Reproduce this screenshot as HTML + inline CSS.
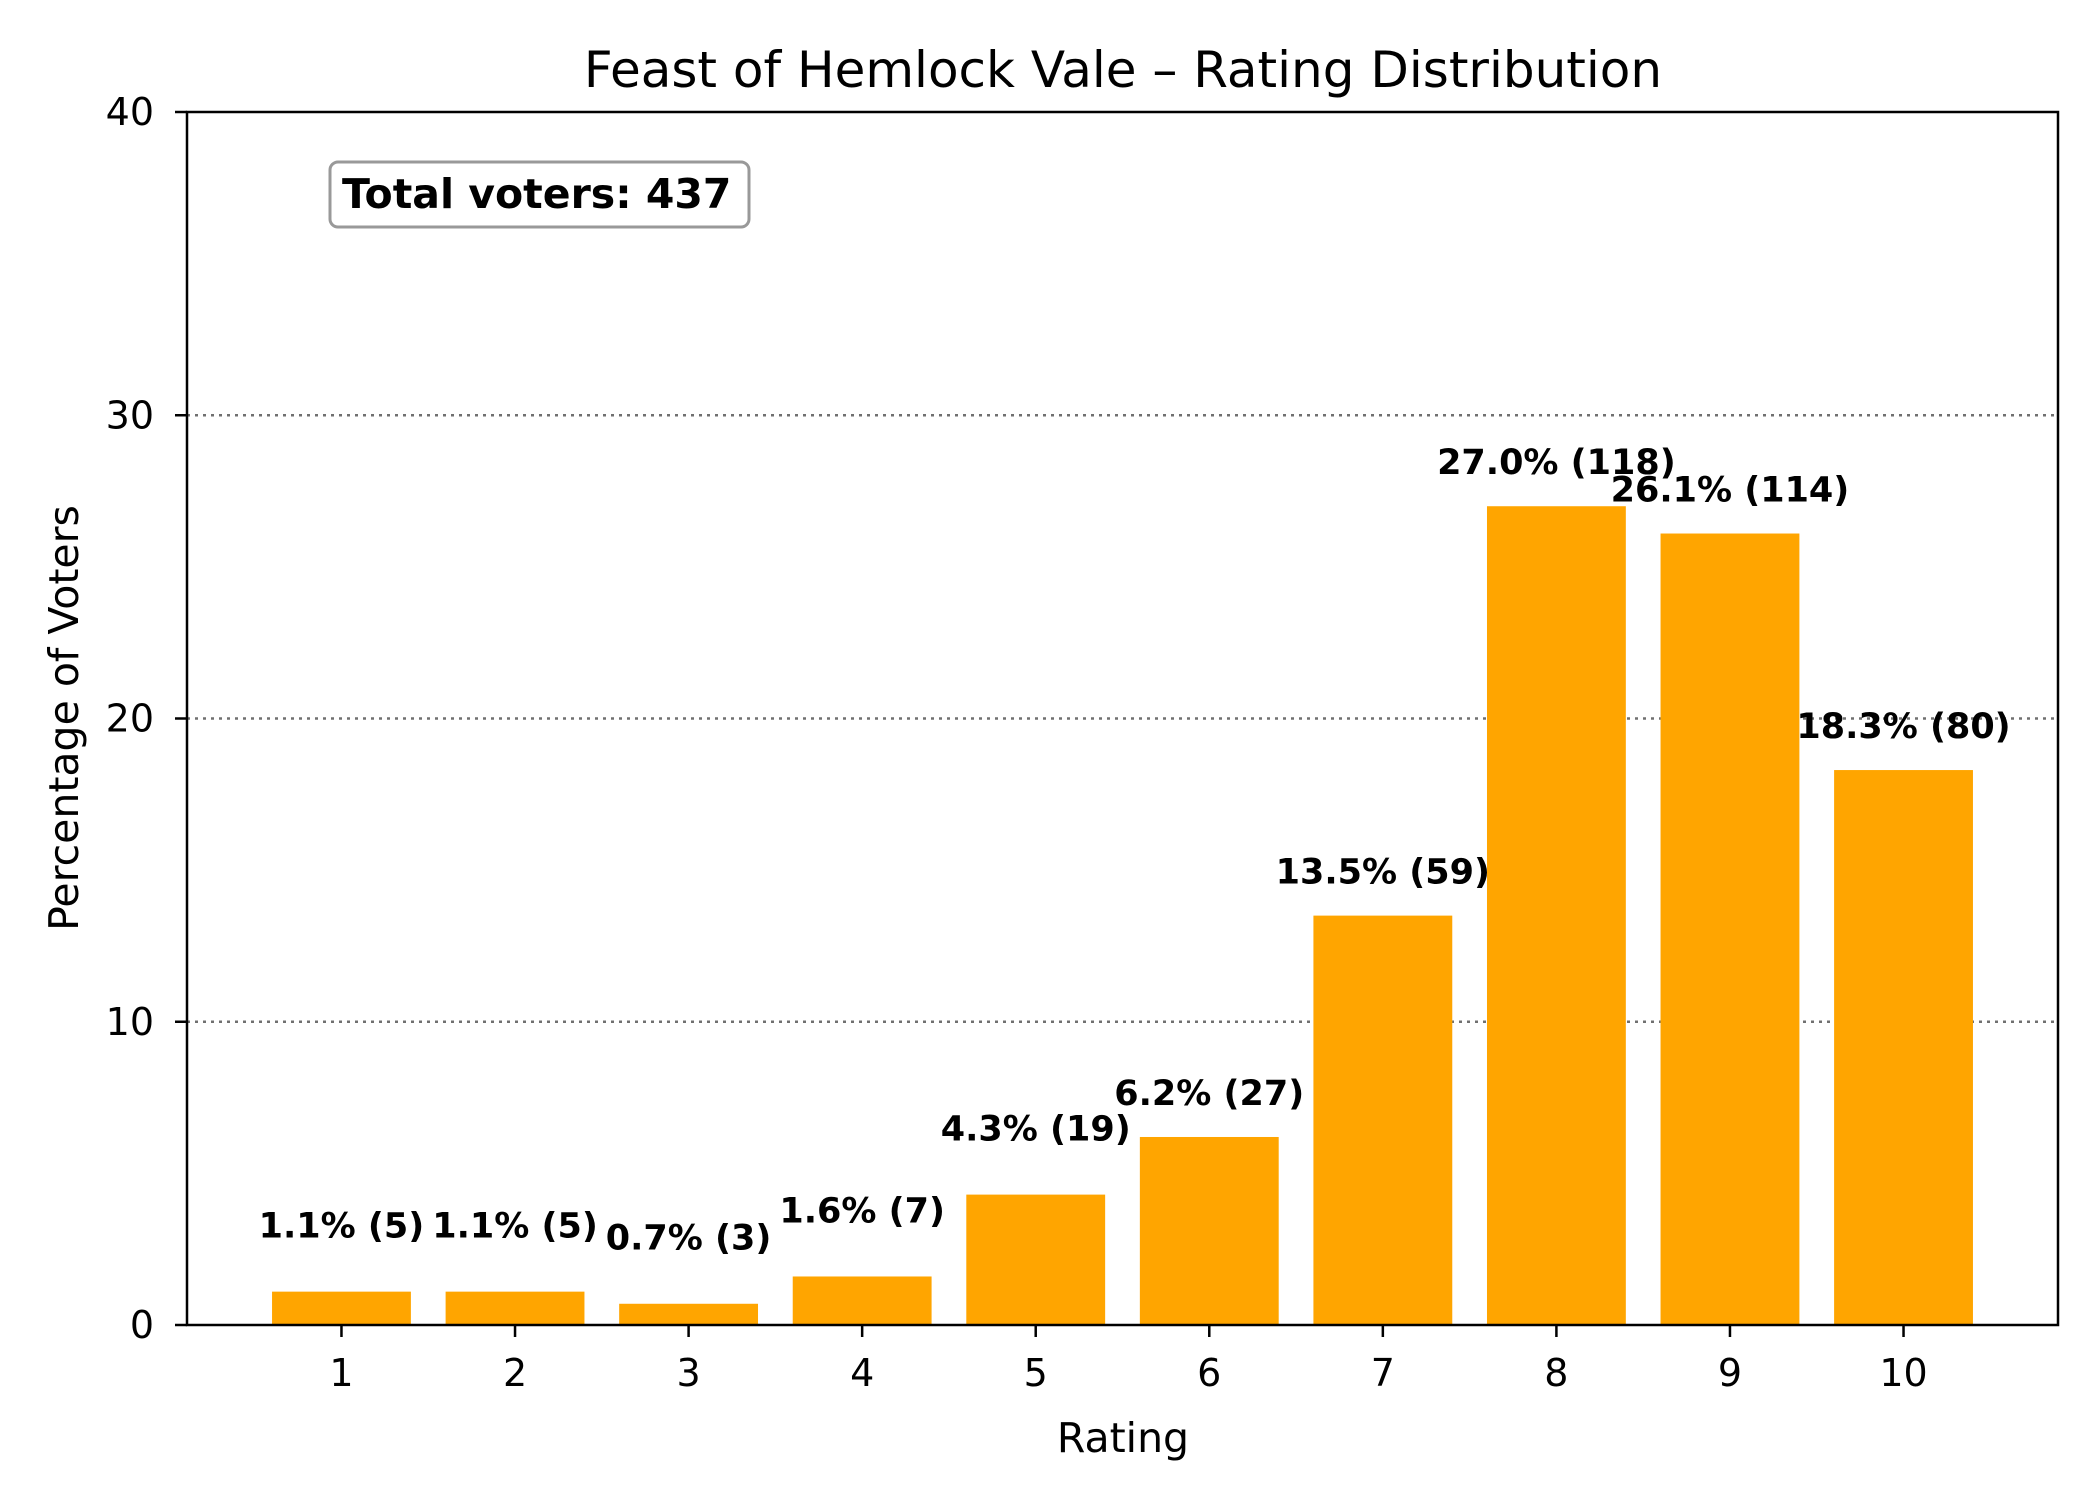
<!DOCTYPE html>
<html><head><meta charset="utf-8"><style>
html,body{margin:0;padding:0;background:#fff;}
svg{display:block;font-family:"DejaVu Sans","Liberation Sans",sans-serif;}
</style></head><body>
<svg id="chart" width="2100" height="1500" viewBox="0 0 2100 1500" xmlns="http://www.w3.org/2000/svg">
<rect width="2100" height="1500" fill="#fff"/>
<g id="grid"></g>
<g id="bars"></g>
<g id="labels"></g>
<g id="axes"></g>
<text x="1123" y="70" text-anchor="middle" dominant-baseline="central" font-size="50">Feast of Hemlock Vale – Rating Distribution</text>
<text x="1123" y="1438" text-anchor="middle" dominant-baseline="central" font-size="41">Rating</text>
<text x="64" y="718" text-anchor="middle" dominant-baseline="central" font-size="41" transform="rotate(-90 64 718)">Percentage of Voters</text>
<g>
<rect x="330" y="162" width="419" height="65" rx="8" fill="#fff" stroke="#999" stroke-width="3"/>
<text x="342" y="194" text-anchor="start" dominant-baseline="central" font-size="41" font-weight="bold">Total voters: 437</text>
</g>
</svg>
<script>
const categories = [1,2,3,4,5,6,7,8,9,10];
const percents = [1.1,1.1,0.7,1.6,4.3,6.2,13.5,27.0,26.1,18.3];
const counts = [5,5,3,7,19,27,59,118,114,80];
const yTicks = [0,10,20,30,40];

const NS = 'http://www.w3.org/2000/svg';
const L=187,R=2058,T=112,B=1325;
const xMin=0.11,xMax=10.89,yMax=40;
const xs=v=>L+(v-xMin)/(xMax-xMin)*(R-L);
const ys=v=>B-v/yMax*(B-T);
function mk(tag,attrs,parent){const e=document.createElementNS(NS,tag);for(const k in attrs)e.setAttribute(k,attrs[k]);parent.appendChild(e);return e;}
const grid=document.getElementById('grid'),bars=document.getElementById('bars'),labels=document.getElementById('labels'),axes=document.getElementById('axes');

yTicks.forEach(t=>{
  if(t>0&&t<yMax){
    const g=mk('line',{x1:L,x2:R,y1:ys(t),y2:ys(t),stroke:'#707070','stroke-width':2.5,'stroke-dasharray':'3,5'},grid);
    
    
  }
  const tk=mk('line',{x1:L-12,x2:L,y1:ys(t),y2:ys(t),stroke:'#000','stroke-width':2.5},axes);
  
  
  const tl=mk('text',{x:L-33,y:ys(t),'text-anchor':'end','dominant-baseline':'central','font-size':38},axes);
  tl.textContent=t;
  
  
});

const bw=0.8*(R-L)/(xMax-xMin);
categories.forEach((c,i)=>{
  const v=percents[i];
  const b=mk('rect',{x:xs(c)-bw/2,y:ys(v),width:bw,height:B-ys(v),fill:'#FFA500'},bars);
  
  
  const off=v<5?2.15:1.42;
  const t=mk('text',{x:xs(c),y:ys(v+off),'text-anchor':'middle','dominant-baseline':'central','font-size':35,'font-weight':'bold'},labels);
  t.textContent=v.toFixed(1)+'% ('+counts[i]+')';
  
  
  const tk=mk('line',{x1:xs(c),x2:xs(c),y1:B,y2:B+12,stroke:'#000','stroke-width':2.5},axes);
  
  
  const tl=mk('text',{x:xs(c),y:B+48,'text-anchor':'middle','dominant-baseline':'central','font-size':38},axes);
  tl.textContent=c;
  
  
});
const frame=mk('rect',{x:L,y:T,width:R-L,height:B-T,fill:'none',stroke:'#000','stroke-width':2.5},axes);


</script>
</body></html>
